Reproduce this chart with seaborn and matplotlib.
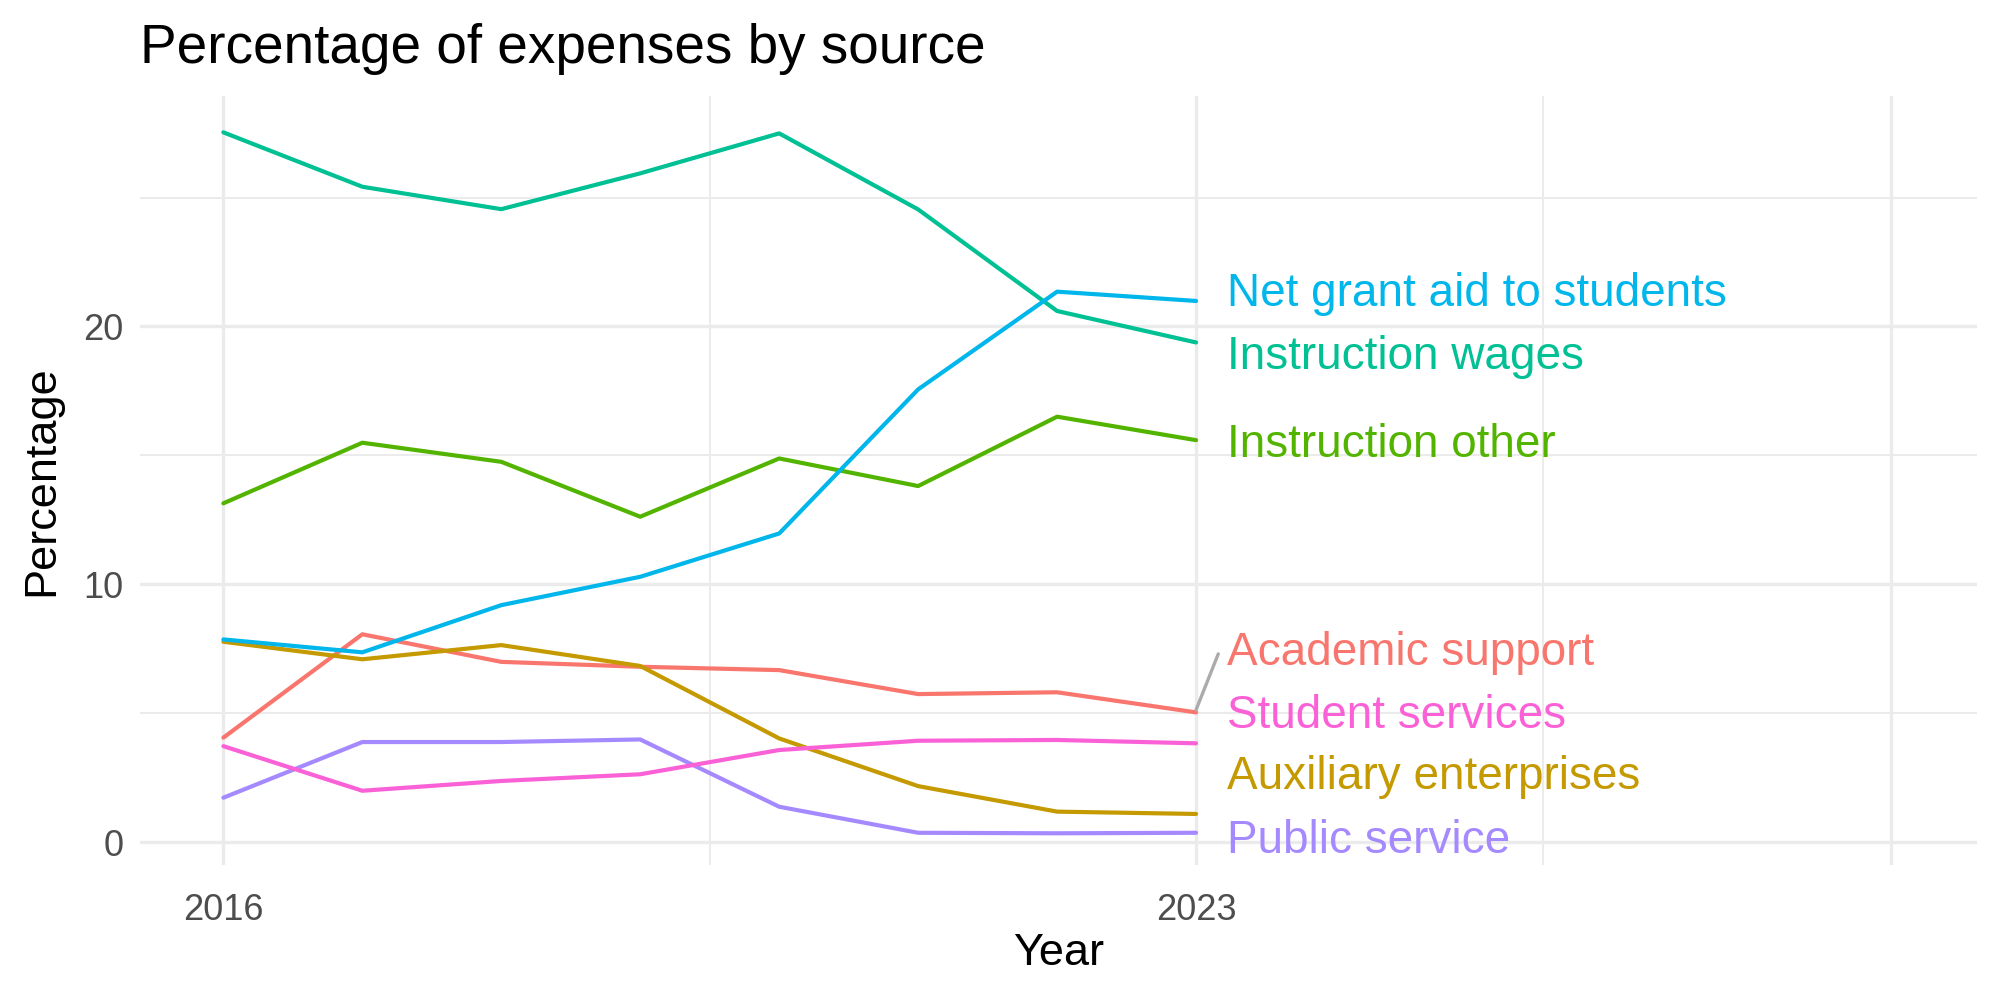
import numpy as np
import pandas as pd
import matplotlib
matplotlib.use("Agg")
import matplotlib.pyplot as plt
import seaborn as sns

years = [2016, 2017, 2018, 2019, 2020, 2021, 2022, 2023]

academic_support = [4.05, 8.06, 6.99, 6.80, 6.67, 5.74, 5.81, 5.03]
auxiliary_enterprises = [7.77, 7.09, 7.64, 6.83, 4.02, 2.17, 1.18, 1.09]
instruction_other = [13.14, 15.49, 14.75, 12.62, 14.88, 13.81, 16.50, 15.59]
instruction_wages = [27.53, 25.42, 24.55, 25.94, 27.49, 24.54, 20.60, 19.38]
net_grant_aid = [7.86, 7.36, 9.19, 10.29, 11.97, 17.56, 21.35, 20.99]
public_service = [1.72, 3.88, 3.88, 3.98, 1.37, 0.36, 0.34, 0.36]
student_services = [3.72, 1.99, 2.37, 2.63, 3.57, 3.93, 3.96, 3.83]

sources = ["Academic support", "Auxiliary enterprises", "Instruction other",
           "Instruction wages", "Net grant aid to students", "Public service",
           "Student services"]
colors = ["#F8766D", "#C49A00", "#53B400", "#00C094", "#00B6EB", "#A58AFF", "#FB61D7"]

# label heights at the right end (repelled positions)
label_y = [7.33, 2.52, 15.39, 18.81, 21.25, 0.05, 4.9]

series = [academic_support, auxiliary_enterprises, instruction_other,
          instruction_wages, net_grant_aid, public_service, student_services]
df = pd.DataFrame({
    "Year": np.tile(years, len(sources)),
    "Percentage": np.concatenate(series),
    "Source": np.repeat(sources, len(years)),
})

sns.set_theme(style="white")
plt.rcParams["font.family"] = ["Liberation Sans", "DejaVu Sans"]

fig = plt.figure(figsize=(20, 10), dpi=100)
ax = fig.add_axes([0.07, 0.135, 0.9185, 0.769])

grid = "#EBEBEB"
ax.set_xticks([2016, 2023, 2028])
ax.set_xticklabels(["2016", "2023", ""])
ax.set_xticks([2019.5, 2025.5], minor=True)
ax.set_yticks([0, 10, 20])
ax.set_yticks([5, 15, 25], minor=True)
ax.grid(which="major", color=grid, linewidth=2.4)
ax.grid(which="minor", color=grid, linewidth=1.4)
ax.set_axisbelow(True)

sns.lineplot(data=df, x="Year", y="Percentage", hue="Source", hue_order=sources,
             palette=colors, linewidth=3.0, legend=False, ax=ax)

for name, col, ly in zip(sources, colors, label_y):
    ax.text(2023.22, ly, name, color=col, fontsize=33, ha="left", va="center")

# repel segment for Academic support
ax.plot([2023.0, 2023.16], [academic_support[-1] + 0.1, 7.3], color="#ABABAB", linewidth=2.4)

ax.set_xlim(2015.4, 2028.62)
ax.set_ylim(-0.89, 28.94)

for s in ax.spines.values():
    s.set_visible(False)
ax.tick_params(which="both", length=0, labelsize=26, labelcolor="#4D4D4D")
ax.tick_params(axis="x", pad=20)
ax.tick_params(axis="y", pad=12)
ax.set_xlabel("Year", fontsize=32.5, color="black", labelpad=4)
ax.set_ylabel("Percentage", fontsize=32.5, color="black", labelpad=15)

fig.text(0.07, 1 - 63 / 1000, "Percentage of expenses by source", fontsize=39.5,
         color="black", ha="left", va="baseline")

fig.savefig("out.png", dpi=100, facecolor="white")
